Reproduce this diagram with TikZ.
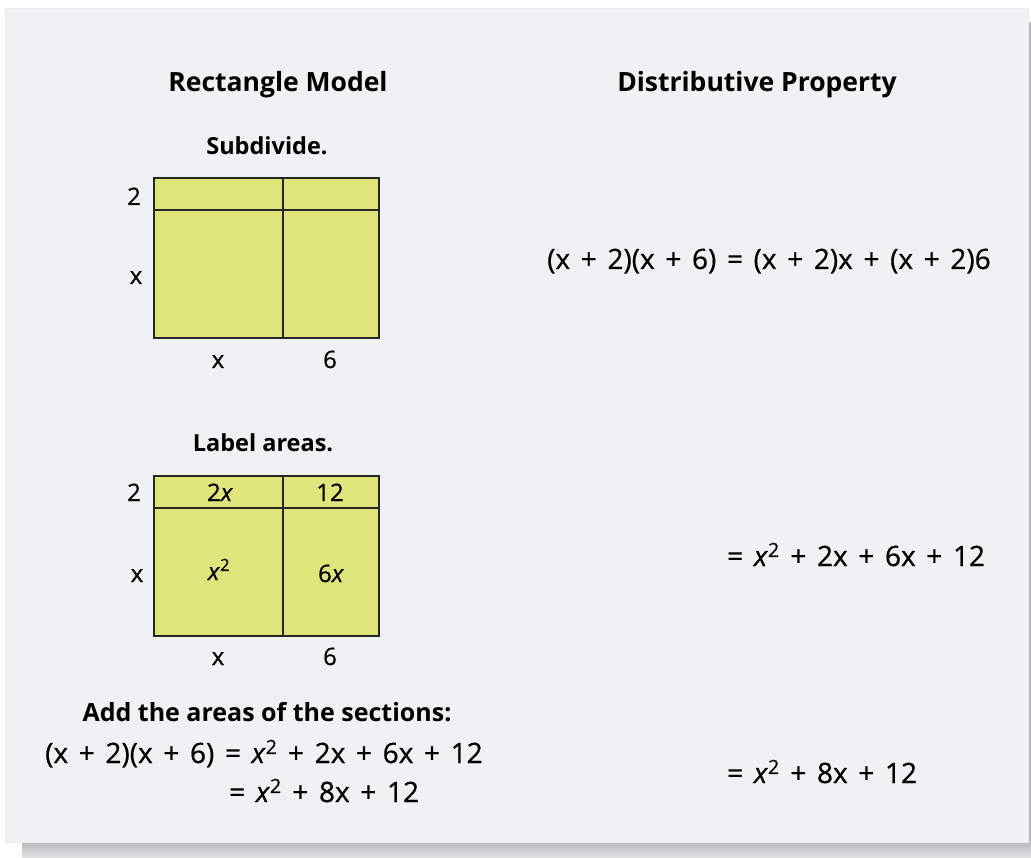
\documentclass[tikz,border=0pt]{standalone}
\usepackage{fontspec}
\setmainfont{Open Sans}
\newfontfamily\medfont[FakeBold=0.6]{Open Sans}
\definecolor{panel}{HTML}{F0F1F3}
\definecolor{shadowc}{HTML}{B8B9BB}
\definecolor{areaf}{HTML}{DFE57A}
\newcommand\PL{\hspace{0.38em}+\hspace{0.38em}}
\newcommand\EQ{\hspace{0.38em}=\hspace{0.38em}}
\newcommand\XX{\textit{x}\textsuperscript{2}}
\begin{document}
\begin{tikzpicture}[x=1pt,y=-1pt,
  head/.style={font=\fontsize{26.5}{30}\selectfont\bfseries, anchor=base, inner sep=0},
  sub/.style={font=\fontsize{23.5}{27}\selectfont\bfseries, anchor=base, inner sep=0},
  lbl/.style={font=\fontsize{24}{28}\selectfont\medfont, anchor=base, inner sep=0},
  eq/.style={font=\fontsize{28}{32}\selectfont\medfont, anchor=base, inner sep=0},
  area/.style={fill=areaf, draw=black!85, line width=2.2pt}]
\useasboundingbox (0,0) rectangle (1031,858);
\fill[white] (0,0) rectangle (1031,858);
% shadow
\fill[shadowc] (1027,22) rectangle (1031,843);
\shade[top color=shadowc, bottom color=shadowc!40] (22,842) rectangle (1031,858);
% panel
\fill[panel, draw=black!8] (5,8) rectangle (1028,842);

% headings
\node[head] (h1) at (278,92) {Rectangle Model};
\node[head] (h2) at (757,92) {Distributive Property};

% first rectangle
\node[sub] (s1) at (267,155) {Subdivide.};
\draw[area] (154,178) rectangle (379,338);
\draw[black!85, line width=2.2pt] (154,210) -- (379,210);
\draw[black!85, line width=2.2pt] (283,178) -- (283,338);
\node[lbl] (a2) at (134,205) {2};
\node[lbl] (ax) at (136,284) {x};
\node[lbl] (bx) at (218,368) {x};
\node[lbl] (b6) at (330,368) {6};

% second rectangle
\node[sub] (s2) at (263,452) {Label areas.};
\draw[area] (154,476) rectangle (379,636);
\draw[black!85, line width=2.2pt] (154,508) -- (379,508);
\draw[black!85, line width=2.2pt] (283,476) -- (283,636);
\node[lbl] (c2) at (134,501) {2};
\node[lbl] (cx) at (137,582) {x};
\node[lbl] (dx) at (218,665) {x};
\node[lbl] (d6) at (330,665) {6};
\node[lbl] (r1) at (220,501) {2\textit{x}};
\node[lbl] (r2) at (330,501) {12};
\node[lbl] (r3) at (219,580) {\XX};
\node[lbl] (r4) at (331,582) {6\textit{x}};

% bottom-left text
\node[sub, font=\fontsize{25}{29}\selectfont\bfseries] (add) at (267,721) {Add the areas of the sections:};
\node[eq, anchor=base west] (l1) at (45,763) {(x\PL 2)(x\PL 6)\EQ\XX\PL 2x\PL 6x\PL 12};
\node[eq, anchor=base west] (l2) at (229,802) {=\hspace{0.38em}\XX\PL 8x\PL 12};

% right column equations
\node[eq, anchor=base west] (e1) at (547,269) {(x\PL 2)(x\PL 6)\EQ(x\PL 2)x\PL(x\PL 2)6};
\node[eq, anchor=base west] (e2) at (727,566) {=\hspace{0.38em}\XX\PL 2x\PL 6x\PL 12};
\node[eq, anchor=base west] (e3) at (727,783) {=\hspace{0.38em}\XX\PL 8x\PL 12};
\end{tikzpicture}
\end{document}
